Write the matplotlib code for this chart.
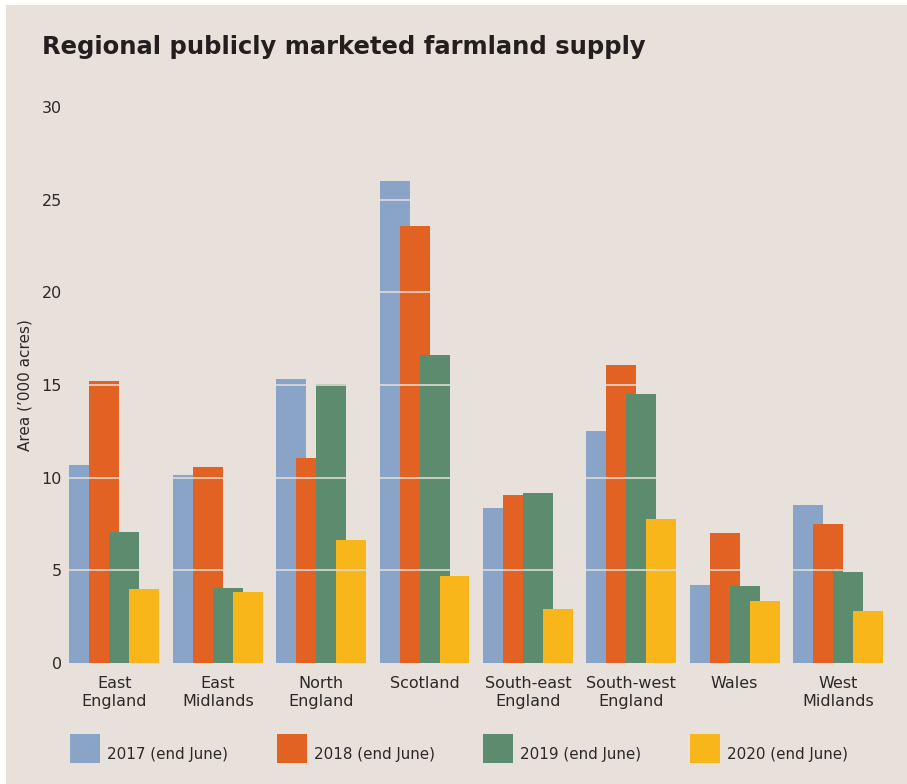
import numpy as np
import matplotlib.pyplot as plt
from matplotlib.patches import Rectangle

# data
regions = ["East\nEngland", "East\nMidlands", "North\nEngland", "Scotland",
           "South-east\nEngland", "South-west\nEngland", "Wales", "West\nMidlands"]
years = ["2017 (end June)", "2018 (end June)", "2019 (end June)", "2020 (end June)"]
v2017 = [10.7, 10.15, 15.3, 26.0, 8.35, 12.5, 4.2, 8.5]
v2018 = [15.2, 10.6, 11.05, 23.6, 9.05, 16.1, 7.0, 7.5]
v2019 = [7.05, 4.05, 15.05, 16.6, 9.15, 14.5, 4.15, 4.9]
v2020 = [4.0, 3.85, 6.65, 4.7, 2.9, 7.75, 3.35, 2.8]
series = [v2017, v2018, v2019, v2020]
colors = ["#8aa4c8", "#e26224", "#5c8b6e", "#f8b61a"]
bg = "#e7e0db"
txt = "#2b2a29"

plt.rcParams['font.family'] = ['DejaVu Sans']

W, H = 907, 784
fig = plt.figure(figsize=(W / 100, H / 100), dpi=100, facecolor="white")
fig.add_artist(Rectangle((6 / W, 0), 1, 1 - 5 / H, transform=fig.transFigure,
                         facecolor=bg, edgecolor="none", zorder=-10))

ax = fig.add_axes([66 / W, (H - 663) / H, 821 / W, (663 - 107) / H])
ax.set_facecolor("none")

x = np.arange(len(regions))
step = 0.1935
width = 0.29
for k, vals in enumerate(series):
    ax.bar(x + (k - 1.5) * step, vals, width=width, color=colors[k], zorder=2 + k * 0.1)

for yv in [5, 10, 15, 20, 25]:
    ax.axhline(yv, color=bg, lw=1.3, alpha=0.85, zorder=5)

ax.set_xlim(-0.469, 7.475)
ax.set_ylim(0, 30)
ax.set_yticks(range(0, 31, 5))
ax.set_xticks(x)
ax.set_xticklabels(regions, fontsize=10.5, color=txt, linespacing=1.3)
ax.tick_params(axis="both", length=0, colors=txt, labelsize=11.5)
ax.tick_params(axis="x", pad=9)
ax.tick_params(axis="y", pad=3)
for s in ax.spines.values():
    s.set_visible(False)

ax.set_ylabel("Area (\u2019000 acres)", fontsize=11, color=txt)
ax.yaxis.set_label_coords(-33 / 821, 0.5)

fig.text(42 / W, 1 - 47 / H, "Regional publicly marketed farmland supply",
         fontsize=17.5, fontweight="bold", color="#231f20", va="center", ha="left")

# legend
for k, lab in enumerate(years):
    lx = 70 + k * 206.7
    fig.add_artist(Rectangle((lx / W, 1 - 763 / H), 30 / W, 29 / H,
                             transform=fig.transFigure, facecolor=colors[k],
                             edgecolor="none"))
    fig.text((lx + 37) / W, 1 - 755 / H, lab, fontsize=10.9, color=txt,
             va="center", ha="left")

fig.savefig("out.png", dpi=100, facecolor="white")
